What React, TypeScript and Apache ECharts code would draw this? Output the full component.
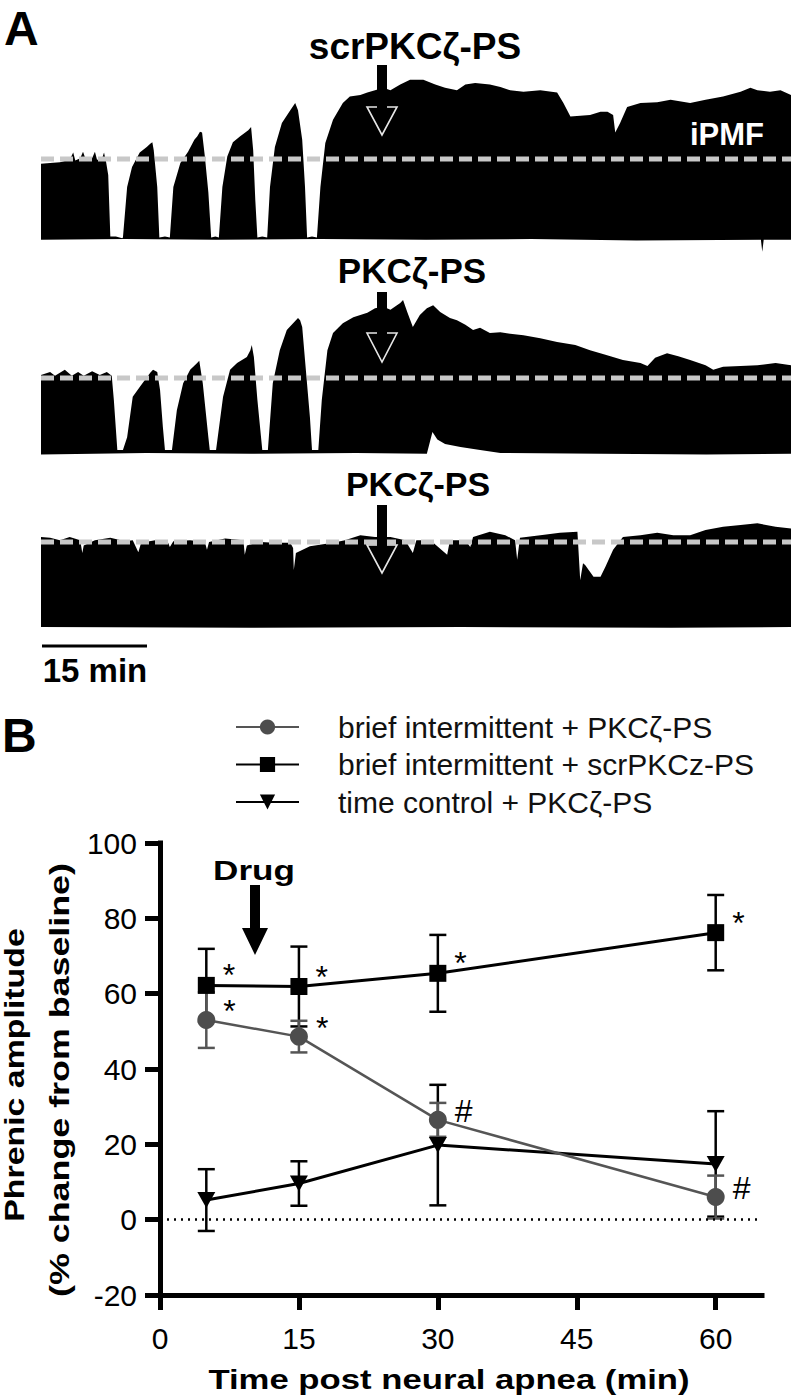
import React, { useEffect, useRef } from "react";
import * as echarts from "echarts";

const FONT = "'Liberation Sans', Arial, Helvetica, sans-serif";

// ---------- Panel A: integrated phrenic traces ----------
// time in minutes, amplitude in % of baseline burst (baseline iPMF = 100)
const TRACE_SPAN = 107.1;
const BASELINE_LEVEL = 100;

const trace1Top: number[][] = [
  [0, 94], [1.3, 95], [2.7, 96], [4.1, 99], [4.6, 108], [4.9, 98], [5.6, 101], [6.0, 109], [6.4, 99],
  [7.3, 101], [7.7, 109], [8.0, 99], [8.7, 100], [9.0, 108], [9.3, 96], [9.6, 80], [9.9, 3], [10.7, 3],
  [11.6, 1], [11.7, 2], [12.3, 65], [13.0, 90], [14.1, 108], [15.1, 115], [15.6, 119], [15.9, 121],
  [16.1, 111], [16.6, 65], [16.9, 2], [17.7, 3], [18.4, 2], [18.9, 65], [19.9, 95], [21.0, 109],
  [21.9, 124], [22.3, 128], [22.7, 134], [23.0, 133], [23.4, 103], [23.9, 58], [24.3, 2], [24.9, 3],
  [25.4, 2], [25.9, 65], [26.6, 103], [27.4, 121], [28.4, 128], [29.6, 136], [30.0, 140], [30.3, 111],
  [30.6, 49], [30.9, 2], [31.6, 3], [32.3, 2], [32.7, 65], [33.4, 115], [34.4, 145], [35.6, 161],
  [36.3, 170], [36.7, 161], [37.3, 124], [37.7, 65], [38.0, 2], [38.7, 3], [39.4, 2], [39.9, 65],
  [40.6, 120], [41.7, 149], [43.1, 170], [44.1, 178], [45.6, 180], [46.6, 183], [47.7, 186], [48.9, 189],
  [49.9, 186], [51.3, 193], [52.7, 199], [54.6, 199], [56.3, 193], [57.7, 189], [59.4, 186], [60.6, 193],
  [62.0, 195], [64.1, 193], [65.6, 190], [67.0, 186], [68.9, 184], [71.3, 186], [73.7, 183], [74.6, 170],
  [75.6, 153], [77.0, 154], [78.4, 155], [79.9, 159], [80.9, 159], [81.7, 155], [82.0, 133], [82.7, 145],
  [83.7, 165], [85.6, 170], [88.0, 171], [89.9, 174], [92.7, 170], [94.9, 174], [97.4, 178], [99.9, 184],
  [101.3, 189], [102.3, 186], [104.1, 184], [105.6, 186], [107.1, 180],
];
const trace1Bottom: number[][] = [
  [0, -1], [12, 0], [25, -1], [40, 0], [55, -1], [70, 0], [85, -2], [102.8, -1], [103.0, -16], [103.2, -1], [107.1, -1],
];

const trace2Top: number[][] = [
  [0, 104], [1.3, 108], [2.0, 103], [3.4, 111], [4.4, 103], [5.3, 108], [6.1, 103], [7.3, 109], [8.4, 104],
  [9.4, 108], [10.1, 103], [10.4, 71], [10.9, 4], [11.3, 4], [11.7, 4], [12.3, 21], [13.1, 75], [14.1, 88],
  [15.6, 107], [16.0, 111], [16.6, 108], [17.0, 84], [17.4, 35], [17.7, 4], [18.1, 4], [18.7, 4], [19.4, 57],
  [20.3, 93], [21.3, 111], [22.3, 120], [22.6, 123], [22.7, 117], [23.1, 93], [23.9, 21], [24.1, 4], [24.6, 4],
  [25.0, 4], [26.0, 75], [27.0, 111], [28.0, 120], [29.4, 128], [29.9, 137], [30.1, 144], [30.4, 128],
  [30.9, 71], [31.6, 4], [32.0, 4], [32.4, 4], [33.1, 93], [34.1, 137], [35.1, 164], [36.0, 173], [36.7, 180],
  [37.0, 177], [37.3, 168], [37.7, 124], [38.4, 48], [38.7, 4], [39.1, 4], [39.6, 4], [40.1, 71], [40.9, 137],
  [41.7, 160], [43.1, 173], [44.6, 181], [46.6, 187], [47.7, 193], [48.9, 195], [49.9, 191], [51.3, 200],
  [51.7, 204], [52.3, 188], [53.1, 168], [54.1, 184], [55.1, 193], [56.0, 197], [57.0, 188], [58.4, 180],
  [59.4, 177], [60.6, 171], [61.7, 164], [62.7, 167], [64.1, 160], [65.6, 161], [67.0, 159], [68.9, 157],
  [71.3, 153], [73.7, 148], [76.3, 144], [78.4, 137], [80.6, 131], [83.1, 124], [85.6, 120], [86.6, 116],
  [87.7, 127], [89.4, 133], [91.0, 129], [92.7, 124], [94.9, 117], [96.0, 111], [97.4, 115], [99.9, 116],
  [102.3, 117], [104.9, 120], [107.1, 117],
];
const trace2Bottom: number[][] = [
  [0, -2], [15, 0], [30, -1], [45, 0], [55.1, -1], [55.9, 28], [56.6, 18], [57.7, 12], [59.9, 8],
  [62.7, 4], [65.6, 0], [80, -1], [95, -2], [107.1, -1],
];

const trace3Top: number[][] = [
  [0, 106], [1.3, 105], [2.7, 102], [4.1, 106], [5.6, 102], [5.9, 87], [6.1, 96], [7.7, 102], [9.9, 105],
  [12.0, 101], [13.1, 102], [13.9, 88], [14.3, 99], [16.3, 102], [18.0, 102], [18.4, 94], [18.9, 101],
  [21.3, 102], [23.4, 100], [23.7, 91], [24.0, 100], [26.3, 104], [28.9, 102], [29.1, 85], [29.4, 96],
  [31.3, 100], [33.4, 99], [35.6, 99], [36.0, 93], [36.1, 67], [36.4, 87], [38.4, 95], [41.7, 99],
  [43.4, 102], [45.6, 108], [47.7, 106], [49.9, 106], [52.0, 102], [53.1, 87], [53.6, 102], [55.6, 102],
  [58.0, 85], [58.4, 102], [60.6, 102], [61.3, 94], [61.7, 106], [64.1, 112], [66.3, 108], [67.7, 102],
  [68.0, 79], [68.4, 105], [71.3, 108], [74.1, 111], [76.6, 112], [77.0, 55], [77.4, 75], [77.7, 73],
  [78.9, 59], [79.9, 59], [80.6, 71], [81.7, 91], [83.1, 106], [85.6, 108], [88.0, 111], [90.3, 108],
  [92.7, 108], [94.9, 114], [97.4, 118], [99.9, 120], [102.3, 122], [104.9, 118], [107.1, 116],
];
const trace3Bottom: number[][] = [
  [0, 0], [30, -1], [60, 0], [90, -1], [107.1, 0],
];

// ---------- Panel B: phrenic amplitude vs time ----------
const timePoints = [5, 15, 30, 60];
const seriesNames = [
  "brief intermittent + PKC\u03b6-PS",
  "brief intermittent + scrPKCz-PS",
  "time control + PKC\u03b6-PS",
];
const pkcMean = [53.0, 48.6, 26.5, 6.0];
const pkcSem = [7.4, 4.2, 4.5, 5.7];
const scrMean = [62.2, 61.9, 65.4, 76.2];
const scrSem = [9.7, 10.6, 10.2, 10.0];
const tcMean = [5.2, 9.6, 19.8, 14.8];
const tcSem = [8.2, 5.9, 16.0, 14.0];
const pkcMarks = ["*", "*", "#", "#"];
const scrMarks = ["*", "*", "*", "*"];
const xTicks = [0, 15, 30, 45, 60];

const GRAY = "#555555";

function traceSeries(idx: number, top: number[][], bottom: number[][]) {
  return {
    type: "custom",
    xAxisIndex: idx,
    yAxisIndex: idx,
    silent: true,
    z: 2,
    data: [[0, 0]],
    renderItem: (_p: any, api: any) => {
      const pts = top.map((p) => api.coord(p)).concat(
        bottom.slice().reverse().map((p) => api.coord(p))
      );
      return { type: "polygon", shape: { points: pts }, style: { fill: "#000" } };
    },
  };
}

function baselineSeries(idx: number) {
  return {
    type: "line",
    xAxisIndex: idx,
    yAxisIndex: idx,
    silent: true,
    z: 3,
    symbol: "none",
    data: [[0, BASELINE_LEVEL], [TRACE_SPAN, BASELINE_LEVEL]],
    lineStyle: { color: "#c8c8c8", width: 5, type: [13, 6] },
  };
}

function errorSeries(means: number[], sems: number[], color: string, z: number) {
  return {
    type: "custom",
    xAxisIndex: 3,
    yAxisIndex: 3,
    silent: true,
    z,
    data: timePoints.map((t, i) => [t, means[i] - sems[i], means[i] + sems[i]]),
    encode: { x: 0, y: [1, 2] },
    renderItem: (_p: any, api: any) => {
      const lo = api.coord([api.value(0), api.value(1)]);
      const hi = api.coord([api.value(0), api.value(2)]);
      const hw = 8.5;
      const st = { stroke: color, lineWidth: 2.5 };
      return {
        type: "group",
        children: [
          { type: "line", shape: { x1: lo[0], y1: lo[1], x2: hi[0], y2: hi[1] }, style: st },
          { type: "line", shape: { x1: hi[0] - hw, y1: hi[1], x2: hi[0] + hw, y2: hi[1] }, style: st },
          { type: "line", shape: { x1: lo[0] - hw, y1: lo[1], x2: lo[0] + hw, y2: lo[1] }, style: st },
        ],
      };
    },
  };
}

function txt(text: string, x: number, y: number, size: number, o: any = {}) {
  const font = `${o.weight || "bold"} ${size}px ${FONT}`;
  return {
    type: "text",
    x,
    y,
    z: 100,
    rotation: o.rotation || 0,
    scaleX: o.scaleX || 1,
    style: {
      text,
      x: 0,
      y: 0,
      font,
      fill: o.fill || "#000",
      align: o.align || "center",
      verticalAlign: "middle",
      textAlign: o.align || "center",
      textVerticalAlign: "middle",
    },
  };
}

function hollowArrow(cx: number, yTop: number, yHead: number, yTip: number) {
  return [
    {
      type: "polygon",
      z: 100,
      shape: { points: [[cx - 15, yHead], [cx + 15, yHead], [cx, yTip]] },
      style: { fill: "#000", stroke: "#e6e6e6", lineWidth: 1.6 },
    },
    {
      type: "rect",
      z: 101,
      shape: { x: cx - 5, y: yTop, width: 10, height: yHead - yTop + 1.5 },
      style: { fill: "#000" },
    },
  ];
}

function buildOption(): any {
  const traceGrids = [
    { top: 75, height: 184, min: -25, max: 205 },
    { top: 288, height: 180, min: -20, max: 220 },
    { top: 508, height: 136, min: -20, max: 140 },
  ];
  const grid: any[] = traceGrids.map((g) => ({
    left: 41, width: 750, top: g.top, height: g.height, outerBoundsMode: "none",
  }));
  grid.push({ left: 160, width: 602, top: 843, height: 452, outerBoundsMode: "none" });

  const xAxis: any[] = traceGrids.map((_g, i) => ({
    gridIndex: i, type: "value", min: 0, max: TRACE_SPAN, show: false,
  }));
  const yAxis: any[] = traceGrids.map((g, i) => ({
    gridIndex: i, type: "value", min: g.min, max: g.max, show: false,
  }));

  const axisLineStyle = { color: "#000", width: 5, cap: "square" };
  xAxis.push({
    gridIndex: 3,
    type: "value",
    min: 0,
    max: 65,
    axisLine: { show: true, onZero: false, lineStyle: axisLineStyle },
    axisTick: { show: true, length: 15, lineStyle: { color: "#000", width: 5 }, customValues: xTicks },
    axisLabel: { customValues: xTicks, fontSize: 30, color: "#000", fontFamily: FONT, margin: 28 },
    splitLine: { show: false },
  });
  yAxis.push({
    gridIndex: 3,
    type: "value",
    min: -20,
    max: 100,
    interval: 20,
    axisLine: { show: true, lineStyle: axisLineStyle },
    axisTick: { show: true, length: 15, lineStyle: { color: "#000", width: 5 } },
    axisLabel: { fontSize: 30, color: "#000", fontFamily: FONT, margin: 23 },
    splitLine: { show: false },
  });

  const markLabel = (marks: string[], offsetY: number) => ({
    show: true,
    position: "right",
    distance: 8,
    offset: [0, offsetY],
    formatter: (p: any) => marks[p.dataIndex],
    fontSize: 32,
    color: "#000",
    fontFamily: FONT,
  });

  const series: any[] = [
    traceSeries(0, trace1Top, trace1Bottom),
    traceSeries(1, trace2Top, trace2Bottom),
    traceSeries(2, trace3Top, trace3Bottom),
    baselineSeries(0),
    baselineSeries(1),
    baselineSeries(2),
    errorSeries(scrMean, scrSem, "#000", 2),
    errorSeries(tcMean, tcSem, "#000", 2),
    errorSeries(pkcMean, pkcSem, GRAY, 3),
    {
      name: seriesNames[1],
      type: "line",
      xAxisIndex: 3,
      yAxisIndex: 3,
      z: 4,
      data: timePoints.map((t, i) => [t, scrMean[i]]),
      symbol: "rect",
      symbolSize: 17,
      itemStyle: { color: "#000" },
      lineStyle: { color: "#000", width: 3 },
      label: markLabel(scrMarks, -10),
    },
    {
      name: seriesNames[2],
      type: "line",
      xAxisIndex: 3,
      yAxisIndex: 3,
      z: 4,
      data: timePoints.map((t, i) => [t, tcMean[i]]),
      symbol: "triangle",
      symbolRotate: 180,
      symbolSize: [18, 16],
      itemStyle: { color: "#000" },
      lineStyle: { color: "#000", width: 3 },
      markLine: {
        silent: true,
        symbol: "none",
        label: { show: false },
        lineStyle: { type: [2, 5], color: "#000", width: 2.5 },
        data: [{ yAxis: 0 }],
      },
    },
    {
      name: seriesNames[0],
      type: "line",
      xAxisIndex: 3,
      yAxisIndex: 3,
      z: 5,
      data: timePoints.map((t, i) => [t, pkcMean[i]]),
      symbol: "circle",
      symbolSize: 18,
      itemStyle: { color: "#4d4d4d" },
      lineStyle: { color: GRAY, width: 2.5 },
      label: markLabel(pkcMarks, -9),
    },
  ];

  const graphic: any[] = [
    txt("A", 4, 28, 48, { align: "left" }),
    txt("B", 2, 735, 48, { align: "left" }),
    txt("scrPKC\u03b6-PS", 415, 46, 37),
    txt("PKC\u03b6-PS", 412, 270, 35),
    txt("PKC\u03b6-PS", 418, 484, 34),
    txt("iPMF", 727, 134, 31, { fill: "#fff" }),
    ...hollowArrow(382, 65, 107, 135),
    ...hollowArrow(382, 292, 333, 362),
    ...hollowArrow(382, 505, 545, 573),
    {
      type: "line",
      z: 100,
      shape: { x1: 42, y1: 646, x2: 147, y2: 646 },
      style: { stroke: "#000", lineWidth: 3 },
    },
    txt("15 min", 95, 670, 33),
    txt("Drug", 254, 871, 27, { scaleX: 1.3 }),
    {
      type: "polygon",
      z: 100,
      shape: {
        points: [[250, 885], [260, 885], [260, 928], [268, 928], [255, 955], [242, 928], [250, 928]],
      },
      style: { fill: "#000" },
    },
    txt("Phrenic amplitude", 15, 1075, 28, { rotation: Math.PI / 2, scaleX: 1.21 }),
    txt("(% change from baseline)", 59, 1080, 28, { rotation: Math.PI / 2, scaleX: 1.28 }),
    txt("Time post neural apnea (min)", 449, 1380, 27, { scaleX: 1.285 }),
  ];

  return {
    animation: false,
    backgroundColor: "#fff",
    textStyle: { fontFamily: FONT },
    grid,
    xAxis,
    yAxis,
    legend: {
      data: [seriesNames[0], seriesNames[1], seriesNames[2]],
      orient: "vertical",
      left: 235,
      top: 712,
      padding: 0,
      itemWidth: 63,
      itemHeight: 19,
      itemGap: 7.5,
      selectedMode: false,
      textStyle: {
        fontSize: 30,
        fontFamily: FONT,
        color: "#111",
        lineHeight: 30,
        padding: [0, 0, 0, 34],
      },
    },
    series,
    graphic: { elements: graphic },
  };
}

export default function App() {
  const ref = useRef<HTMLDivElement>(null);
  useEffect(() => {
    document.body.style.margin = "0";
    const chart = echarts.init(ref.current as HTMLDivElement, null, { renderer: "svg" });
    chart.setOption(buildOption());
    return () => chart.dispose();
  }, []);
  return (
    <div
      ref={ref}
      style={{ position: "absolute", left: 0, top: 0, width: 791, height: 1400 }}
    />
  );
}
